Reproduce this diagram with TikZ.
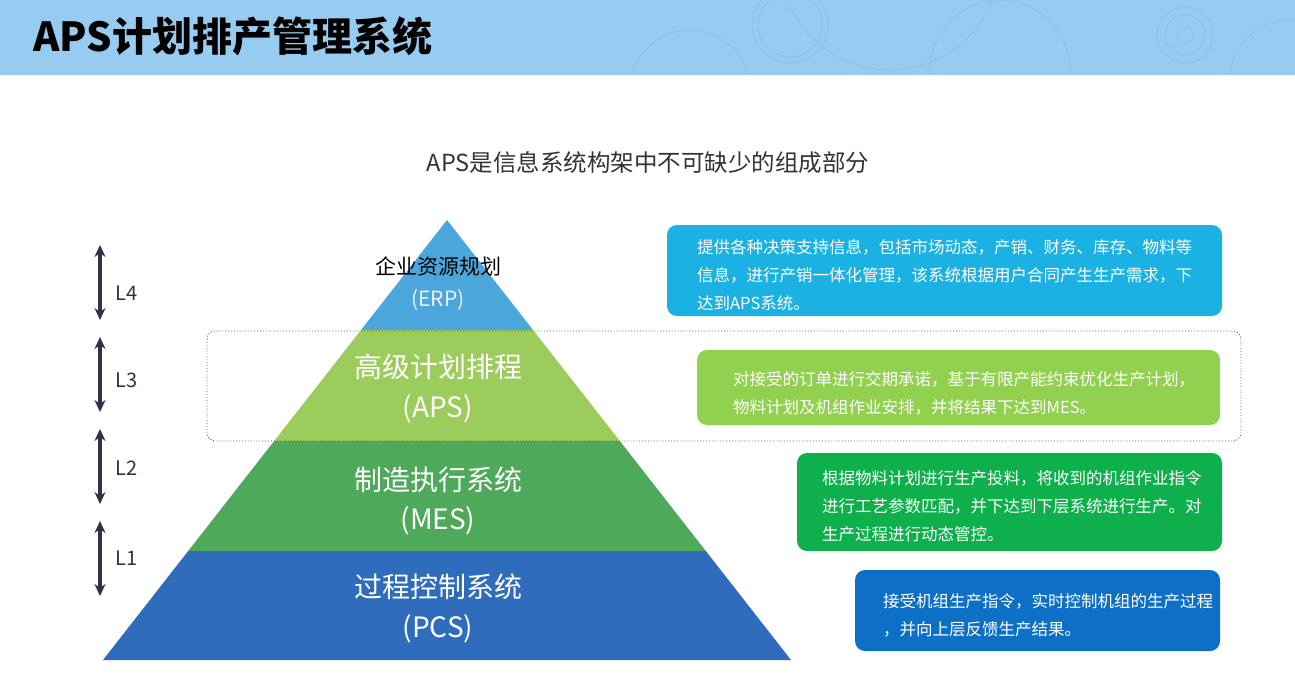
\documentclass[tikz,border=0pt]{standalone}
\usepackage{fontspec}
\setmainfont{Noto Sans CJK SC}
\newfontfamily\cjk{Noto Sans CJK SC}
\usetikzlibrary{arrows.meta}
\definecolor{hdr}{HTML}{97CBEF}
\definecolor{hdrline}{HTML}{89C0E7}
\definecolor{erp}{HTML}{4AA6DB}
\definecolor{aps}{HTML}{9CCC5B}
\definecolor{mes}{HTML}{4FA95A}
\definecolor{pcs}{HTML}{2F6CBB}
\definecolor{box1}{HTML}{1BB1E3}
\definecolor{box2}{HTML}{92D050}
\definecolor{box3}{HTML}{0DB04B}
\definecolor{box4}{HTML}{0E6FC6}
\definecolor{navy}{HTML}{2E3448}
\definecolor{sub}{HTML}{333333}
\tikzset{
  infobox/.style={rounded corners=10pt, draw=none},
  infotext/.style={text=white, anchor=north west, align=left, inner sep=0pt,
    font=\cjk\fontsize{16.5}{28}\selectfont},
  layertext/.style={text=white, align=center, font=\cjk\fontsize{28}{42}\selectfont},
  lvlarrow/.style={navy, line width=3.5pt, {Stealth[length=12pt,width=11pt]}-{Stealth[length=12pt,width=11pt]}},
  lvllabel/.style={text=navy, font=\cjk\fontsize{20}{20}\selectfont, anchor=west, inner sep=0pt},
}
\begin{document}
\begin{tikzpicture}[x=1pt,y=-1pt]
\useasboundingbox (0,0) rectangle (1295,687);
\fill[white] (0,0) rectangle (1295,687);
% header
\fill[hdr] (0,0) rectangle (1295,75);
\begin{scope}
  \clip (0,0) rectangle (1295,75);
  \begin{scope}[hdrline, line width=0.8pt]
    \draw (790,25) circle (32);
    \draw (790,25) circle (38);
    \draw (1185,35) circle (28);
    \draw (1185,35) circle (20);
    \draw (1185,35) circle (8);
    \draw (1000,70) circle (70);
    \draw (890,-40) circle (110);
    \draw (690,90) circle (60);
    \draw (1290,80) circle (60);
  \end{scope}
\end{scope}
\node[anchor=west, inner sep=0pt, font=\cjk\bfseries\fontsize{40}{40}\selectfont] (title) at (33,36) {APS计划排产管理系统};
% subtitle
\node[text=sub, font=\cjk\fontsize{23.5}{23.5}\selectfont] (subtitle) at (648,163) {APS是信息系统构架中不可缺少的组成部分};
% pyramid layers
\fill[erp] (447,220) -- (533,330) -- (361,330) -- cycle;
\fill[aps] (361,330) -- (533,330) -- (619.8,441) -- (274.2,441) -- cycle;
\fill[mes] (274.2,441) -- (619.8,441) -- (705.8,551) -- (188.2,551) -- cycle;
\fill[pcs] (188.2,551) -- (705.8,551) -- (791,660) -- (103,660) -- cycle;
% dashed frame
\draw[gray!70!black, dotted, line width=0.9pt, rounded corners=8pt] (207,331) rectangle (1241,441);
% layer texts
\node[font=\cjk\fontsize{21}{21}\selectfont, text=black] (erpname) at (438,266) {企业资源规划};
\node[font=\cjk\fontsize{21}{21}\selectfont, text=white!88!gray] (erpabbr) at (438,300) {(ERP)};
\node[layertext] (apsname) at (438,367) {高级计划排程};
\node[layertext] (apsabbr) at (438,409) {(APS)};
\node[layertext] (mesname) at (438,480) {制造执行系统};
\node[layertext] (mesabbr) at (438,521) {(MES)};
\node[layertext] (pcsname) at (438,587) {过程控制系统};
\node[layertext] (pcsabbr) at (438,629) {(PCS)};
% level arrows
\coordinate (l4t) at (100,245); \coordinate (l4b) at (100,320);
\coordinate (l3t) at (100,337); \coordinate (l3b) at (100,412);
\coordinate (l2t) at (100,429); \coordinate (l2b) at (100,504);
\coordinate (l1t) at (100,521); \coordinate (l1b) at (100,596);
\draw[lvlarrow] (l4t) -- (l4b);
\draw[lvlarrow] (l3t) -- (l3b);
\draw[lvlarrow] (l2t) -- (l2b);
\draw[lvlarrow] (l1t) -- (l1b);
\node[lvllabel] (L4) at (115,293) {L4};
\node[lvllabel] (L3) at (115,380) {L3};
\node[lvllabel] (L2) at (115,468) {L2};
\node[lvllabel] (L1) at (115,558) {L1};
% info boxes
\fill[box1, infobox] (667,225) rectangle (1222,316);
\node[infotext] (t1) at (697,239) {提供各种决策支持信息，包括市场动态，产销、财务、库存、物料等\\信息，进行产销一体化管理，该系统根据用户合同产生生产需求，下\\达到APS系统。};
\fill[box2, infobox] (697,350) rectangle (1220,425);
\node[infotext] (t2) at (733,371) {对接受的订单进行交期承诺，基于有限产能约束优化生产计划，\\物料计划及机组作业安排，并将结果下达到MES。};
\fill[box3, infobox] (797,453) rectangle (1222,551);
\node[infotext] (t3) at (822,470) {根据物料计划进行生产投料，将收到的机组作业指令\\进行工艺参数匹配，并下达到下层系统进行生产。对\\生产过程进行动态管控。};
\fill[box4, infobox] (855,570) rectangle (1220,651);
\node[infotext] (t4) at (883,593) {接受机组生产指令，实时控制机组的生产过程\\，并向上层反馈生产结果。};
\end{tikzpicture}
\end{document}
